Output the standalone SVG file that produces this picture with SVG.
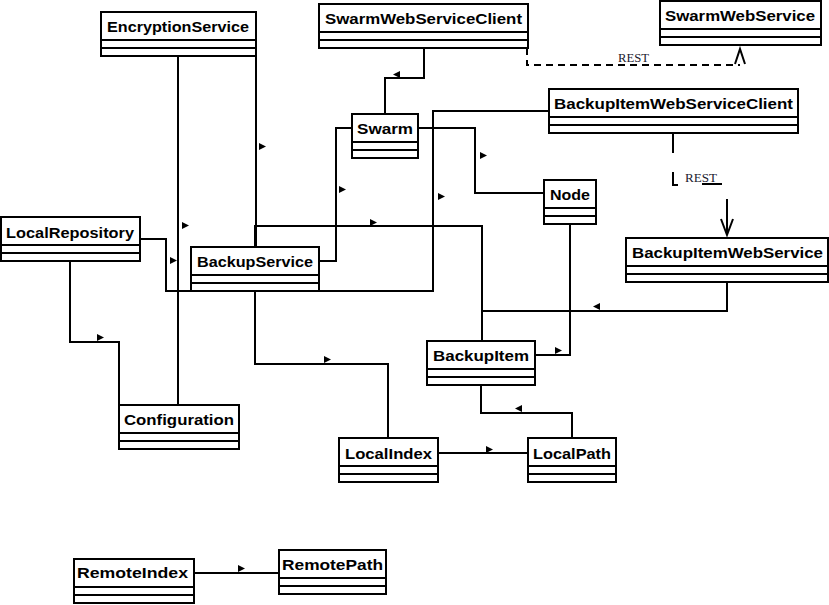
<svg xmlns="http://www.w3.org/2000/svg" width="829" height="605" viewBox="0 0 829 605">
<style>
.box{fill:#fff;stroke:#000;stroke-width:2}
.sep{stroke:#000;stroke-width:2}
.name{font-family:"Liberation Sans",Arial,sans-serif;font-weight:bold;font-size:15.5px;fill:#000}
.c{fill:none;stroke:#000;stroke-width:2}
.d{fill:none;stroke:#000;stroke-width:2;stroke-dasharray:7,5}
.m{fill:#000}
.lbl{font-family:"Liberation Serif","Times New Roman",serif;font-size:12px;fill:#1a1a2e}
</style>
<defs>
<polygon id="mr" points="0,0 0,7 7,3.5"/>
<polygon id="ml" points="7,0 7,7 0,3.5"/>
</defs>
<rect width="829" height="605" fill="#fff"/>
<g id="connectors">
<path class="c" d="M178,56 V405"/>
<path class="c" d="M256,56 V247"/>
<path class="c" d="M255,247 V226 H482 V341"/>
<path class="c" d="M727,282 V311 H482"/>
<path class="c" d="M570,224 V355 H535"/>
<path class="c" d="M418,128 H475 V193 H544"/>
<path class="c" d="M319,261 H336 V128 H352"/>
<path class="c" d="M385,114 V78 H424 V48"/>
<path class="c" d="M140,239 H166 V291 H433 V111 H549"/>
<path class="c" d="M70,261 V342 H119 V405"/>
<path class="c" d="M255,291 V364 H388 V438"/>
<path class="c" d="M572,438 V413 H481 V385"/>
<path class="c" d="M438,453 H528"/>
<path class="c" d="M194,573 H279"/>
<path class="d" d="M527,48 V65 H740"/>
<path class="c" d="M735,64 L740,49 L745,64"/>
<text class="lbl" x="618" y="62" textLength="31" lengthAdjust="spacingAndGlyphs">REST</text>
<path class="c" d="M673,133 V153 M673,172 V185 H678 M702,184 H722 M727,199 V235"/>
<path class="c" d="M721,219 L727,235 L733,219"/>
<text class="lbl" x="685" y="182" textLength="32" lengthAdjust="spacingAndGlyphs">REST</text>
<use href="#mr" class="m" x="259" y="143"/>
<use href="#ml" class="m" x="393" y="71"/>
<use href="#mr" class="m" x="339" y="186"/>
<use href="#mr" class="m" x="480" y="152"/>
<use href="#mr" class="m" x="438" y="193"/>
<use href="#mr" class="m" x="182" y="222"/>
<use href="#mr" class="m" x="370" y="219"/>
<use href="#mr" class="m" x="170" y="257"/>
<use href="#ml" class="m" x="593" y="303"/>
<use href="#mr" class="m" x="555" y="347"/>
<use href="#mr" class="m" x="97" y="334"/>
<use href="#mr" class="m" x="324" y="356"/>
<use href="#ml" class="m" x="515" y="405"/>
<use href="#mr" class="m" x="486" y="446"/>
<use href="#mr" class="m" x="238" y="565"/>
</g>
<g id="EncryptionService">
<rect class="box" x="101" y="12" width="155" height="44"/>
<path class="sep" d="M101,40 H256 M101,48 H256"/>
<text class="name" x="107" y="32" textLength="142" lengthAdjust="spacingAndGlyphs">EncryptionService</text>
</g>
<g id="SwarmWebServiceClient">
<rect class="box" x="319" y="4" width="209" height="44"/>
<path class="sep" d="M319,32 H528 M319,40 H528"/>
<text class="name" x="325" y="24" textLength="197" lengthAdjust="spacingAndGlyphs">SwarmWebServiceClient</text>
</g>
<g id="SwarmWebService">
<rect class="box" x="660" y="1" width="161" height="44"/>
<path class="sep" d="M660,29 H821 M660,37 H821"/>
<text class="name" x="665" y="21" textLength="150" lengthAdjust="spacingAndGlyphs">SwarmWebService</text>
</g>
<g id="BackupItemWebServiceClient">
<rect class="box" x="549" y="89" width="249" height="44"/>
<path class="sep" d="M549,117 H798 M549,125 H798"/>
<text class="name" x="554" y="109" textLength="239" lengthAdjust="spacingAndGlyphs">BackupItemWebServiceClient</text>
</g>
<g id="Swarm">
<rect class="box" x="352" y="114" width="66" height="44"/>
<path class="sep" d="M352,142 H418 M352,150 H418"/>
<text class="name" x="357" y="134" textLength="56" lengthAdjust="spacingAndGlyphs">Swarm</text>
</g>
<g id="Node">
<rect class="box" x="544" y="180" width="52" height="44"/>
<path class="sep" d="M544,208 H596 M544,216 H596"/>
<text class="name" x="550" y="200" textLength="40" lengthAdjust="spacingAndGlyphs">Node</text>
</g>
<g id="BackupItemWebService">
<rect class="box" x="626" y="238" width="202" height="44"/>
<path class="sep" d="M626,266 H828 M626,274 H828"/>
<text class="name" x="632" y="258" textLength="191" lengthAdjust="spacingAndGlyphs">BackupItemWebService</text>
</g>
<g id="LocalRepository">
<rect class="box" x="1" y="217" width="139" height="44"/>
<path class="sep" d="M1,245 H140 M1,253 H140"/>
<text class="name" x="6" y="238" textLength="128" lengthAdjust="spacingAndGlyphs">LocalRepository</text>
</g>
<g id="BackupService">
<rect class="box" x="191" y="247" width="128" height="44"/>
<path class="sep" d="M191,275 H319 M191,283 H319"/>
<text class="name" x="197" y="267" textLength="116" lengthAdjust="spacingAndGlyphs">BackupService</text>
</g>
<g id="Configuration">
<rect class="box" x="119" y="405" width="120" height="44"/>
<path class="sep" d="M119,433 H239 M119,441 H239"/>
<text class="name" x="124" y="425" textLength="110" lengthAdjust="spacingAndGlyphs">Configuration</text>
</g>
<g id="BackupItem">
<rect class="box" x="427" y="341" width="108" height="44"/>
<path class="sep" d="M427,369 H535 M427,377 H535"/>
<text class="name" x="433" y="361" textLength="96" lengthAdjust="spacingAndGlyphs">BackupItem</text>
</g>
<g id="LocalIndex">
<rect class="box" x="339" y="438" width="99" height="44"/>
<path class="sep" d="M339,466 H438 M339,474 H438"/>
<text class="name" x="345" y="459" textLength="87" lengthAdjust="spacingAndGlyphs">LocalIndex</text>
</g>
<g id="LocalPath">
<rect class="box" x="528" y="438" width="88" height="44"/>
<path class="sep" d="M528,466 H616 M528,474 H616"/>
<text class="name" x="533" y="459" textLength="78" lengthAdjust="spacingAndGlyphs">LocalPath</text>
</g>
<g id="RemoteIndex">
<rect class="box" x="74" y="559" width="120" height="44"/>
<path class="sep" d="M74,587 H194 M74,595 H194"/>
<text class="name" x="77" y="578" textLength="111" lengthAdjust="spacingAndGlyphs">RemoteIndex</text>
</g>
<g id="RemotePath">
<rect class="box" x="279" y="550" width="107" height="44"/>
<path class="sep" d="M279,578 H386 M279,586 H386"/>
<text class="name" x="282" y="570" textLength="101" lengthAdjust="spacingAndGlyphs">RemotePath</text>
</g>
</svg>
